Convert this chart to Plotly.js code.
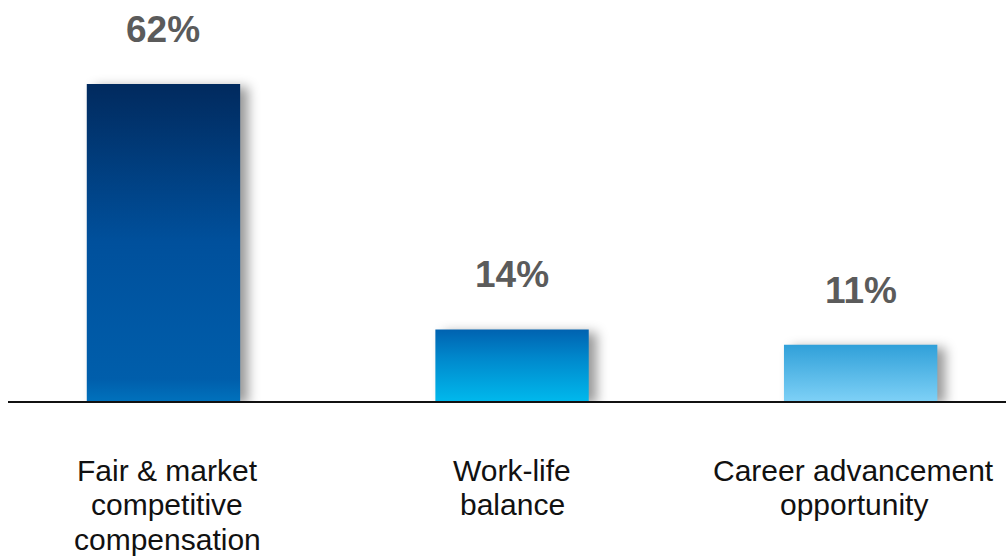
<!DOCTYPE html>
<html>
<head>
<meta charset="utf-8">
<script src="https://cdn.plot.ly/plotly-3.0.1.min.js"></script>
<style>
  html, body { margin: 0; padding: 0; background: #fff; }
  #chart { width: 1006px; height: 558px; }
  .trace.bars .point path { filter: drop-shadow(8px 3px 6px rgba(0,0,0,0.4)); }
  .trace.bars .point:nth-child(1) path { fill: url(#g1) !important; }
  .trace.bars .point:nth-child(2) path { fill: url(#g2) !important; }
  .trace.bars .point:nth-child(3) path { fill: url(#g3) !important; }
</style>
</head>
<body>
<svg width="0" height="0" style="position:absolute">
  <defs>
    <linearGradient id="g1" x1="0" y1="0" x2="0" y2="1">
      <stop offset="0" stop-color="#012a5e"/>
      <stop offset="0.5" stop-color="#00509c"/>
      <stop offset="0.93" stop-color="#005eab"/>
      <stop offset="1" stop-color="#0071bc"/>
    </linearGradient>
    <linearGradient id="g2" x1="0" y1="0" x2="0" y2="1">
      <stop offset="0" stop-color="#0062b0"/>
      <stop offset="0.4" stop-color="#0088cc"/>
      <stop offset="1" stop-color="#00b8ec"/>
    </linearGradient>
    <linearGradient id="g3" x1="0" y1="0" x2="0" y2="1">
      <stop offset="0" stop-color="#30a0d9"/>
      <stop offset="1" stop-color="#7dd0f6"/>
    </linearGradient>
  </defs>
</svg>
<div id="chart"></div>
<script>
const categoryLines = [
  ["Fair & market", "competitive", "compensation"],
  ["Work-life", "balance"],
  ["Career advancement", "opportunity"]
];
const values = [62, 14, 11];
const valueLabels = ["62%", "14%", "11%"];
const positions = [0, 1, 2];

const trace = {
  type: "bar",
  x: positions,
  y: values,
  width: 0.44,
  marker: { color: ["#00509c", "#0088cc", "#55b8e8"], line: { width: 0 } },
  hoverinfo: "none"
};

const annotations = positions.map((p, i) => ({
  x: p, y: values[i], xref: "x", yref: "y",
  text: "<b>" + valueLabels[i] + "</b>",
  showarrow: false, yanchor: "bottom", yshift: 32,
  font: { family: "Liberation Sans, Arial, sans-serif", size: 37, color: "#5b5b5b" }
}));

positions.forEach((p, i) => {
  categoryLines[i].forEach((line, j) => {
    annotations.push({
      x: p, y: 0, xref: "x", yref: "paper",
      text: line, showarrow: false, yanchor: "middle",
      xshift: i === 2 ? -7 : (i === 0 ? 4 : 0),
      yshift: -69 - j * 34.5,
      font: { family: "Liberation Sans, Arial, sans-serif", size: 30, color: "#111" }
    });
  });
});

const layout = {
  width: 1006, height: 558,
  margin: { l: 8, r: 0, t: 0, b: 157 },
  paper_bgcolor: "#fff", plot_bgcolor: "#fff",
  showlegend: false,
  xaxis: {
    range: [-0.446, 2.417],
    tickvals: positions, showticklabels: false,
    showgrid: false, zeroline: false,
    showline: true, linecolor: "#111", linewidth: 2,
    ticks: "", fixedrange: true
  },
  yaxis: {
    range: [0, 78.4], visible: false, showgrid: false, zeroline: false, fixedrange: true
  },
  annotations: annotations
};

Plotly.newPlot("chart", [trace], layout, { displayModeBar: false, staticPlot: true });
</script>
</body>
</html>
